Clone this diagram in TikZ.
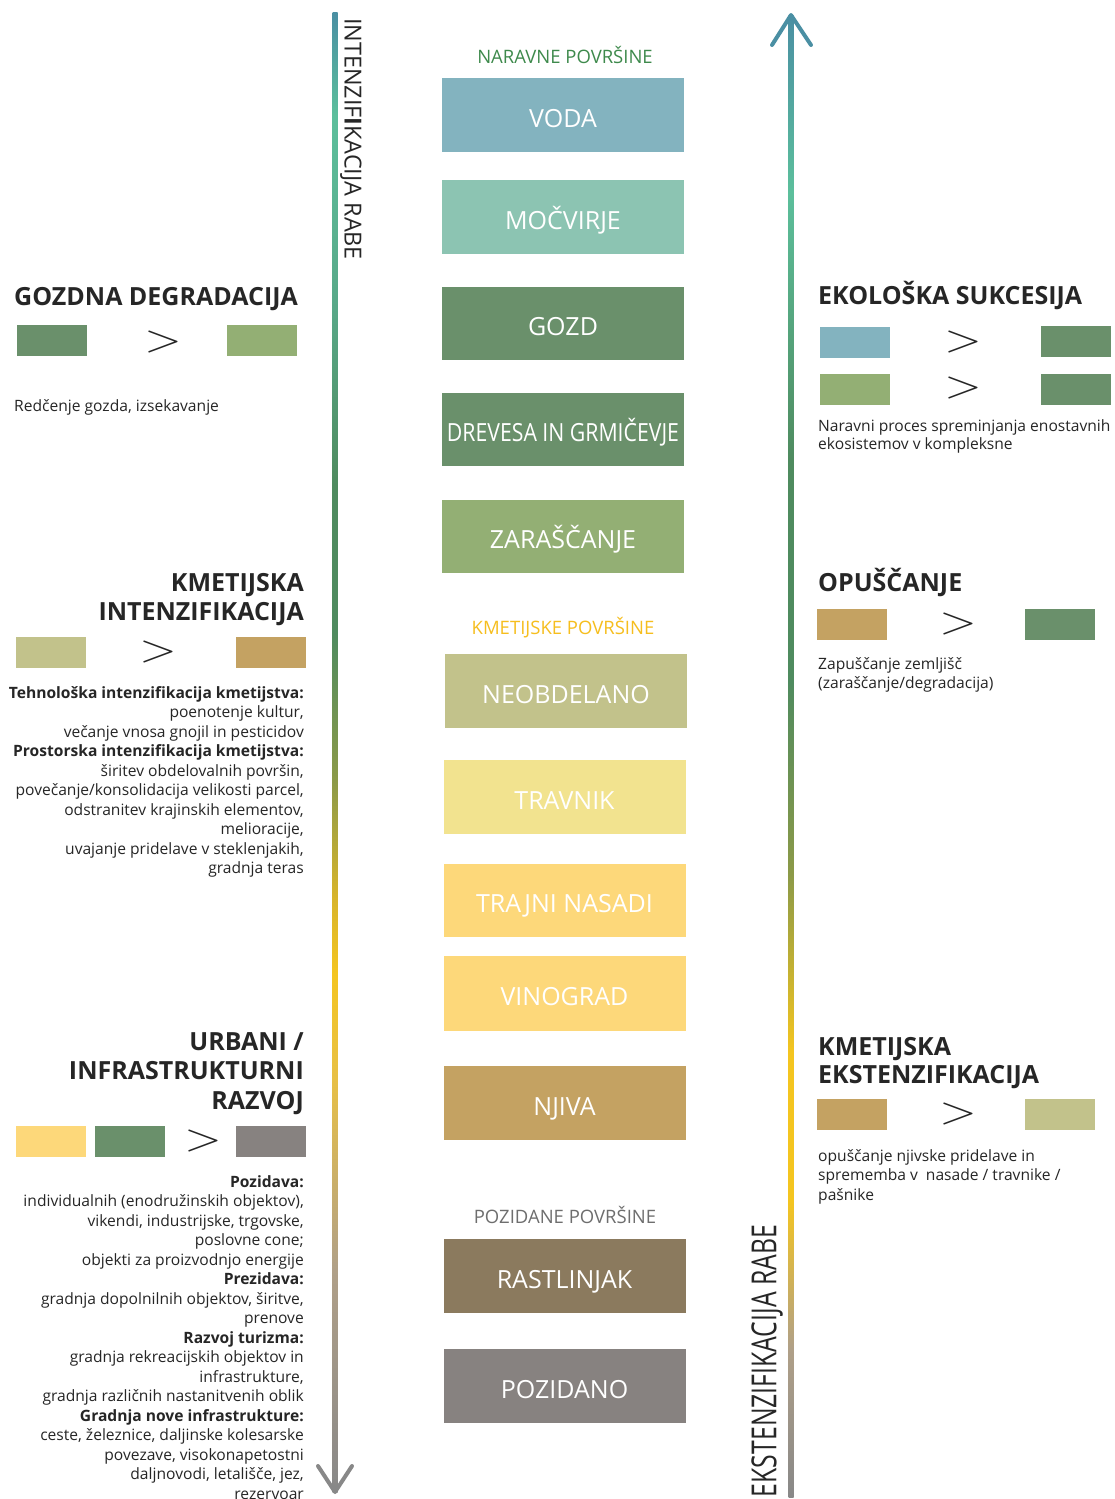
\documentclass[tikz,border=0pt]{standalone}
\usepackage{fontspec}
\setmainfont{Open Sans}
\definecolor{cVoda}{HTML}{83B3BF}
\definecolor{cMoc}{HTML}{8CC4B2}
\definecolor{cGozd}{HTML}{6A906B}
\definecolor{cZar}{HTML}{93AF74}
\definecolor{cNeob}{HTML}{C2C28B}
\definecolor{cTrav}{HTML}{F2E38F}
\definecolor{cTrajni}{HTML}{FDD87A}
\definecolor{cNjiva}{HTML}{C4A262}
\definecolor{cRast}{HTML}{8B7A5E}
\definecolor{cPoz}{HTML}{878280}
\definecolor{txt}{HTML}{262626}
\definecolor{catGreen}{HTML}{3E8A4C}
\definecolor{catGold}{HTML}{F6BE1E}
\definecolor{catGray}{HTML}{6E6E6E}
% axis colours
\definecolor{aTeal}{HTML}{4A8FA3}
\definecolor{aMint}{HTML}{5CBF9C}
\definecolor{aSea}{HTML}{58A888}
\definecolor{aGreen}{HTML}{4F8B5F}
\definecolor{aOlive}{HTML}{8C9A48}
\definecolor{aOchre}{HTML}{D9B52A}
\definecolor{aYellow}{HTML}{F4C520}
\definecolor{aSand}{HTML}{E8C045}
\definecolor{aTaupe}{HTML}{B0A088}
\definecolor{aGray}{HTML}{888888}
\pgfdeclareverticalshading{leftaxis}{100bp}{color(0bp)=(aGray); color(25bp)=(aGray); color(32.5bp)=(aTaupe); color(39bp)=(aSand); color(42.5bp)=(aYellow); color(45bp)=(aOchre); color(49bp)=(aOlive); color(54bp)=(aGreen); color(59bp)=(aGreen); color(65bp)=(aSea); color(71.5bp)=(aMint); color(75bp)=(aTeal); color(100bp)=(aTeal)}
\pgfdeclareverticalshading{rightaxis}{100bp}{color(0bp)=(aGray); color(25bp)=(aGray); color(30bp)=(aTaupe); color(35bp)=(aYellow); color(40bp)=(aYellow); color(46bp)=(aOlive); color(52.5bp)=(aGreen); color(60bp)=(aGreen); color(69bp)=(aMint); color(75bp)=(aTeal); color(100bp)=(aTeal)}
\newcommand{\gtmark}{\scalebox{4.8}[3.8]{$>$}}
\tikzset{
  land/.style={minimum width=242, minimum height=74, inner sep=0, text=white, text height=24pt, text depth=0pt, font=\fontsize{25}{29}\selectfont},
  swatch/.style={minimum width=70, minimum height=31, inner sep=0},
  gtsign/.style={font=\fontsize{10}{10}\selectfont, text=txt, inner sep=0},
  head/.style={font=\fontsize{25}{29.5}\selectfont\bfseries, text=txt, inner sep=0},
  body/.style={font=\fontsize{15.6}{19.5}\selectfont, text=txt, inner sep=0},
  cat/.style={font=\fontsize{18.5}{22}\selectfont, inner sep=0},
  axlabel/.style={inner sep=0, text=txt},
}
\begin{document}
\begin{tikzpicture}[x=1pt,y=-1pt]
\useasboundingbox (0,0) rectangle (1115,1499);
\fill[white] (0,0) rectangle (1115,1499);

% ---- axes ----
\coordinate (ltop) at (335,12);
\coordinate (lbot) at (335,1492);
\coordinate (rtop) at (791,15);
\coordinate (rbot) at (791,1497);
\shade[shading=leftaxis] ([xshift=-2.5pt]ltop) rectangle ([xshift=2.5pt]lbot);
\draw[line width=4, aGray, line cap=round, line join=round] (318,1466) -- (lbot) -- (352,1466);
\shade[shading=rightaxis] ([xshift=-2.5pt]rtop) rectangle ([xshift=2.5pt]rbot);
\draw[line width=4, aTeal, line cap=round, line join=round] (772,45) -- (rtop) -- (811,45);

\node[axlabel, rotate=-90] (intlab) at (351,139) {\resizebox{242pt}{17pt}{INTENZIF\textbf{I}KACIJA RABE}};
\node[axlabel, rotate=90] (ekslab) at (767,1361) {\resizebox{272pt}{25pt}{EKSTENZIFIKACIJA RABE}};

% ---- central column ----
\node[cat, text=catGreen] (nar) at (565,55) {NARAVNE POVRŠINE};
\node[land, fill=cVoda] (voda) at (563,115) {VODA};
\node[land, fill=cMoc] (moc) at (563,217) {MOČVIRJE};
\node[land, fill=cGozd, minimum height=73] (gozd) at (563,323.5) {GOZD};
\node[land, fill=cGozd, minimum height=73] (drev) at (563,429.5) {\scalebox{0.85}[1]{DREVESA IN GRMIČEVJE}};
\node[land, fill=cZar, minimum height=73] (zar) at (563,536.5) {ZARAŠČANJE};
\node[cat, text=catGold] (kmet) at (563,628) {KMETIJSKE POVRŠINE};
\node[land, fill=cNeob] (neob) at (566,691) {NEOBDELANO};
\node[land, fill=cTrav] (trav) at (564.5,797) {TRAVNIK};
\node[land, fill=cTrajni, minimum height=73] (trajni) at (564.5,900.5) {TRAJNI NASADI};
\node[land, fill=cTrajni, minimum height=75] (vino) at (564.5,993.5) {VINOGRAD};
\node[land, fill=cNjiva] (njiva) at (564.5,1103) {NJIVA};
\node[cat, text=catGray] (pozcat) at (565,1215) {POZIDANE POVRŠINE};
\node[land, fill=cRast] (rast) at (564.5,1276) {RASTLINJAK};
\node[land, fill=cPoz] (poz) at (564.5,1386) {POZIDANO};

% ---- left: gozdna degradacija ----
\node[head, anchor=base west] (gdh) at (14,305) {GOZDNA DEGRADACIJA};
\node[swatch, fill=cGozd] (gd1) at (52,340) {};
\node[gtsign] (gdgt) at (163,342) {\gtmark};
\node[swatch, fill=cZar] (gd2) at (261.5,340) {};
\node[body, anchor=base west] (gdb) at (14,411) {Redčenje gozda, izsekavanje};

% ---- left: kmetijska intenzifikacija ----
\node[head, anchor=north east, align=right] (kih) at (304,573) {KMETIJSKA\\INTENZIFIKACIJA};
\node[swatch, fill=cNeob] (ki1) at (51,652.5) {};
\node[gtsign] (kigt) at (158,652) {\gtmark};
\node[swatch, fill=cNjiva] (ki2) at (271,652.5) {};
\node[body, anchor=north east, align=right] (kib) at (304,686) {\textbf{Tehnološka intenzifikacija kmetijstva:}\\
poenotenje kultur,\\
večanje vnosa gnojil in pesticidov\\
\textbf{Prostorska intenzifikacija kmetijstva:}\\
širitev obdelovalnih površin,\\
povečanje/konsolidacija velikosti parcel,\\
odstranitev krajinskih elementov,\\
melioracije,\\
uvajanje pridelave v steklenjakih,\\
gradnja teras};

% ---- left: urbani razvoj ----
\node[head, anchor=north east, align=right] (urh) at (304,1032) {URBANI /\\INFRASTRUKTURNI\\RAZVOJ};
\node[swatch, fill=cTrajni] (ur1) at (51,1141.5) {};
\node[swatch, fill=cGozd] (ur2) at (130,1141.5) {};
\node[gtsign] (urgt) at (203,1141) {\gtmark};
\node[swatch, fill=cPoz] (ur3) at (271,1141.5) {};
\node[body, anchor=north east, align=right] (urb) at (304,1175) {\textbf{Pozidava:}\\
individualnih (enodružinskih objektov),\\
vikendi, industrijske, trgovske,\\
poslovne cone;\\
objekti za proizvodnjo energije\\
\textbf{Prezidava:}\\
gradnja dopolnilnih objektov, širitve,\\
prenove\\
\textbf{Razvoj turizma:}\\
gradnja rekreacijskih objektov in\\
infrastrukture,\\
gradnja različnih nastanitvenih oblik\\
\textbf{Gradnja nove infrastrukture:}\\
ceste, železnice, daljinske kolesarske\\
povezave, visokonapetostni\\
daljnovodi, letališče, jez,\\
rezervoar};

% ---- right: ekoloska sukcesija ----
\node[head, anchor=base west] (esh) at (818,304) {EKOLOŠKA SUKCESIJA};
\node[swatch, fill=cVoda] (es1) at (855,342.5) {};
\node[gtsign] (esgt1) at (963,342) {\gtmark};
\node[swatch, fill=cGozd] (es2) at (1076,341.5) {};
\node[swatch, fill=cZar] (es3) at (855,389.5) {};
\node[gtsign] (esgt2) at (963,388) {\gtmark};
\node[swatch, fill=cGozd] (es4) at (1076,389.5) {};
\node[body, anchor=north west, align=left, font=\fontsize{15.6}{18}\selectfont] (esb) at (818,419) {Naravni proces spreminjanja enostavnih\\ekosistemov v kompleksne};

% ---- right: opuscanje ----
\node[head, anchor=base west] (oph) at (818,591) {OPUŠČANJE};
\node[swatch, fill=cNjiva] (op1) at (852,624) {};
\node[gtsign] (opgt) at (958,624) {\gtmark};
\node[swatch, fill=cGozd] (op2) at (1060,624) {};
\node[body, anchor=north west, align=left, font=\fontsize{15.6}{19}\selectfont] (opb) at (818,657) {Zapuščanje zemljišč\\(zaraščanje/degradacija)};

% ---- right: kmetijska ekstenzifikacija ----
\node[head, anchor=north west, align=left, font=\fontsize{25}{28}\selectfont\bfseries] (keh) at (818,1037) {KMETIJSKA\\EKSTENZIFIKACIJA};
\node[swatch, fill=cNjiva] (ke1) at (852,1114.5) {};
\node[gtsign] (kegt) at (958,1114) {\gtmark};
\node[swatch, fill=cNeob] (ke2) at (1060,1114.5) {};
\node[body, anchor=north west, align=left] (keb) at (818,1149) {opuščanje njivske pridelave in\\sprememba v\ \ nasade / travnike /\\pašnike};
\end{tikzpicture}
\end{document}
